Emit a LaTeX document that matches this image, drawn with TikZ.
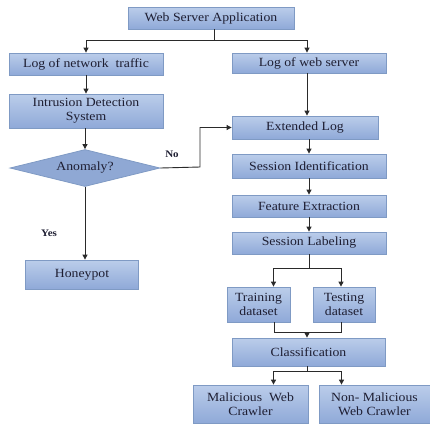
\documentclass[tikz,border=0pt]{standalone}
\usepackage{fontspec}
\setmainfont{Liberation Serif}[FakeStretch=1.1]
\usetikzlibrary{shapes.geometric,arrows.meta}
\definecolor{boxtop}{HTML}{BBCDEA}
\definecolor{boxbot}{HTML}{8FA9D8}
\definecolor{boxline}{HTML}{7F9AC4}
\definecolor{diafill}{HTML}{8FA8D4}
\definecolor{txt}{HTML}{1E1E32}
\definecolor{ln}{HTML}{2A2A2A}
\tikzset{
  stepbox/.style={draw=boxline, line width=0.8pt, top color=boxtop, bottom color=boxbot,
    rectangle, inner sep=1pt, align=center, text=txt,
    font=\fontsize{12.5}{14}\selectfont},
  decbox/.style={draw=boxline, line width=0.8pt, fill=diafill, diamond, aspect=4, inner sep=0pt,
    text=txt, font=\fontsize{12.5}{14}\selectfont},
  arr/.style={draw=ln, line width=0.9pt, -{Triangle[length=5pt,width=5pt]}},
  lin/.style={draw=ln, line width=0.9pt},
  lbl/.style={font=\fontsize{10}{12}\selectfont\bfseries, text=txt}
}
\begin{document}
\begin{tikzpicture}[x=1pt,y=-1pt]
\useasboundingbox (0,0) rectangle (430,424);
\node[stepbox, minimum width=166pt, minimum height=22pt] (wsa) at (211,18) {Web Server Application};
\node[stepbox, minimum width=154pt, minimum height=22pt] (lnt) at (86,64) {Log of network\ \ traffic};
\node[stepbox, minimum width=154pt, minimum height=20pt] (lws) at (309,63) {Log of web server};
\node[stepbox, minimum width=154pt, minimum height=34pt] (ids) at (86,111) {Intrusion Detection\\System};
\node[stepbox, minimum width=146pt, minimum height=23pt] (ext) at (305,127.5) {Extended Log};
\node[decbox, minimum width=150pt, minimum height=37pt] (dia) at (85,168) {Anomaly?};
\node[stepbox, minimum width=154pt, minimum height=24pt] (sid) at (309,166) {Session Identification};
\node[stepbox, minimum width=154pt, minimum height=22pt] (fex) at (309,206) {Feature Extraction};
\node[stepbox, minimum width=154pt, minimum height=22pt] (slb) at (309,243) {Session Labeling};
\node[stepbox, minimum width=113pt, minimum height=29pt] (hon) at (82,274.5) {Honeypot};
\node[stepbox, minimum width=63pt, minimum height=35pt] (trn) at (258.5,304.5) {Training\\dataset};
\node[stepbox, minimum width=62pt, minimum height=35pt] (tst) at (344,304.5) {Testing\\dataset};
\node[stepbox, minimum width=153pt, minimum height=28pt] (cls) at (308.5,352) {Classification};
\node[stepbox, minimum width=115pt, minimum height=38pt] (mal) at (250.5,404) {Malicious\ \ Web\\Crawler};
\node[stepbox, minimum width=111pt, minimum height=38pt] (non) at (374.5,404) {Non- Malicious\\Web Crawler};
% connectors
\coordinate (b1) at (214,40);
\draw[lin] ([xshift=3pt]wsa.south) -- (b1);
\draw[arr] (b1) -| (lnt.north);
\draw[arr] (b1) -| ([xshift=-2pt]lws.north);
\draw[arr] (lnt.south) -- (ids.north);
\draw[arr] ([xshift=-2pt]lws.south) -- ([xshift=2pt]ext.north);
\draw[arr] (ids.south -| dia.north) -- (dia.north);
\coordinate (no) at (200,167);
\draw[arr] (dia.east) -- (no) |- (ext.west);
\draw[arr] (dia.south) -- (dia.south |- hon.north);
\draw[arr] (ext.south -| sid.north) -- (sid.north);
\draw[arr] (sid.south) -- (fex.north);
\draw[arr] (fex.south) -- (slb.north);
\coordinate (b2) at (309,268);
\draw[lin] (slb.south) -- (b2);
\draw[arr] (b2) -| ([xshift=15pt]trn.north);
\draw[arr] (b2) -| ([xshift=-3pt]tst.north);
\coordinate (m) at (307,332);
\draw[lin] ([xshift=16pt]trn.south) |- (m) -| ([xshift=-3pt]tst.south);
\draw[arr] (m) -- (m |- cls.north);
\coordinate (b3) at (307,371);
\draw[lin] (m |- cls.south) -- (b3);
\draw[arr] (b3) -| ([xshift=23pt]mal.north);
\draw[arr] (b3) -| ([xshift=-33pt]non.north);
% labels
\node[lbl] (nolbl) at (172,154) {No};
\node[lbl] (yeslbl) at (49,233) {Yes};
\end{tikzpicture}
\end{document}
